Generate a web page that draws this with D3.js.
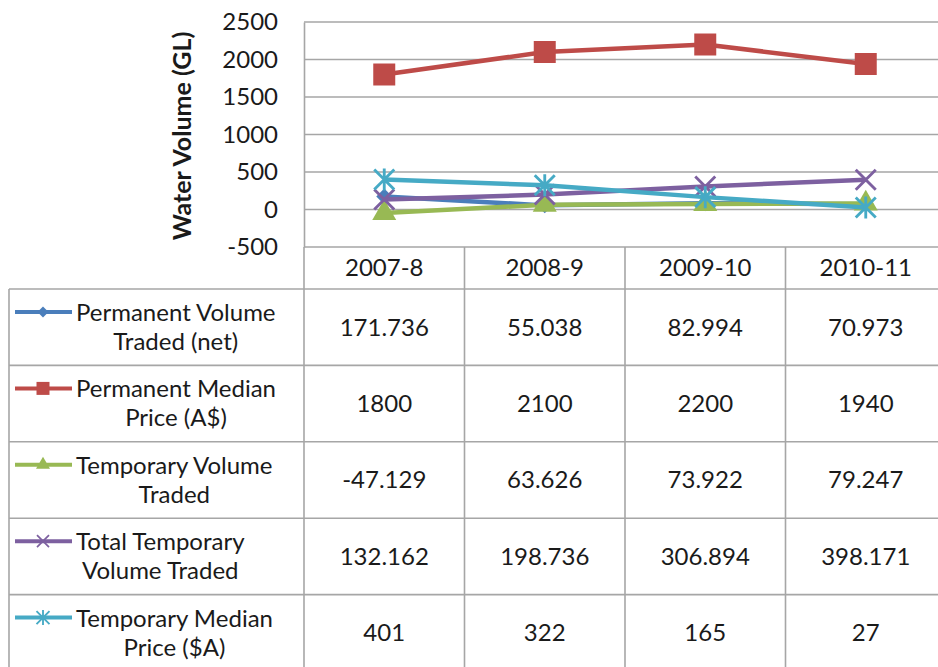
<!DOCTYPE html>
<html>
<head>
<meta charset="utf-8">
<script src="https://cdn.jsdelivr.net/npm/d3@7"></script>
<style>
  body { margin: 0; background: #fff; }
  text { font-family: Lato, "Open Sans", sans-serif; fill: #1a1a1a; }
</style>
</head>
<body>
<svg id="chart" width="938" height="667"></svg>
<script>
const years = ['2007-8', '2008-9', '2009-10', '2010-11'];
const seriesNames = ['permVolume', 'permPrice', 'tempVolume', 'totalTempVolume', 'tempPrice'];
const legendLines = [
    ['Permanent Volume', 'Traded (net)'],
    ['Permanent Median', 'Price (A$)'],
    ['Temporary Volume', 'Traded'],
    ['Total Temporary', 'Volume Traded'],
    ['Temporary Median', 'Price ($A)']
];
const permVolume = [171.736, 55.038, 82.994, 70.973];
const permPrice = [1800, 2100, 2200, 1940];
const tempVolume = [-47.129, 63.626, 73.922, 79.247];
const totalTempVolume = [132.162, 198.736, 306.894, 398.171];
const tempPrice = [401, 322, 165, 27];
const yTicks = [-500, 0, 500, 1000, 1500, 2000, 2500];
const colors = ['#4a7ebb', '#be4b48', '#98b954', '#7d60a0', '#46aac5'];
const markers = ['diamond', 'square', 'triangle', 'x', 'star'];

const values = [permVolume, permPrice, tempVolume, totalTempVolume, tempPrice];

const gridColor = '#a6a6a6';
const fontSize = 24;
const svg = d3.select('#chart');

// plot area
const plot = { left: 304, right: 946, top: 22, bottom: 247 };
const tableTop = 289, tableBottom = 671, tableLeft = 9;

const x = d3.scaleBand().domain(years).range([plot.left, plot.right]);
const y = d3.scaleLinear().domain([-500, 2500]).range([plot.bottom, plot.top]);
const rows = d3.scaleBand().domain(seriesNames).range([tableTop, tableBottom]);

// gridlines
svg.append('g')
    .selectAll('line')
    .data(yTicks)
    .join('line')
    .attr('x1', plot.left).attr('x2', plot.right)
    .attr('y1', d => y(d)).attr('y2', d => y(d))
    .attr('stroke', gridColor).attr('stroke-width', 1.6);

// y axis
const yAxis = svg.append('g')
    .attr('transform', `translate(${plot.left},0)`)
    .call(d3.axisLeft(y).tickValues(yTicks).tickSize(0).tickPadding(26).tickFormat(d => String(d)));
yAxis.select('.domain').attr('stroke', gridColor).attr('stroke-width', 1.6);
yAxis.selectAll('text')
    .attr('font-size', fontSize)
    .attr('font-family', 'Lato, "Open Sans", sans-serif')
    .attr('fill', '#1a1a1a');

svg.append('text')
    .attr('transform', 'translate(191,136) rotate(-90)')
    .attr('text-anchor', 'middle')
    .attr('font-size', 25)
    .attr('font-weight', 'bold')
    .text('Water Volume (GL)');

// table grid
const grid = svg.append('g').attr('stroke', gridColor).attr('stroke-width', 1.6);
grid.selectAll('.vcol')
    .data(years)
    .join('line')
    .attr('x1', d => x(d)).attr('x2', d => x(d))
    .attr('y1', plot.bottom).attr('y2', tableBottom);
grid.append('line')
    .attr('x1', tableLeft).attr('x2', tableLeft)
    .attr('y1', tableTop).attr('y2', tableBottom);
grid.selectAll('.hrow')
    .data(seriesNames)
    .join('line')
    .attr('x1', tableLeft).attr('x2', plot.right)
    .attr('y1', d => rows(d)).attr('y2', d => rows(d));

// header labels
svg.append('g')
    .selectAll('text')
    .data(years)
    .join('text')
    .attr('x', d => x(d) + x.bandwidth() / 2)
    .attr('y', (plot.bottom + tableTop) / 2)
    .attr('dy', '0.35em')
    .attr('text-anchor', 'middle')
    .attr('font-size', fontSize)
    .text(d => d);

// value cells
seriesNames.forEach((name, i) => {
    svg.append('g')
        .selectAll('text')
        .data(values[i])
        .join('text')
        .attr('x', (d, j) => x(years[j]) + x.bandwidth() / 2)
        .attr('y', rows(name) + rows.bandwidth() / 2)
        .attr('dy', '0.35em')
        .attr('text-anchor', 'middle')
        .attr('font-size', fontSize)
        .text(d => String(d));
});

// marker drawing
function marker(g, type, color, s) {
    if (type === 'diamond') {
        g.append('path').attr('d', d3.symbol(d3.symbolSquare, s * s / 2)())
            .attr('transform', 'rotate(45)').attr('fill', color);
    } else if (type === 'square') {
        g.append('path').attr('d', d3.symbol(d3.symbolSquare, s * s)()).attr('fill', color);
    } else if (type === 'triangle') {
        g.append('path').attr('d', d3.symbol(d3.symbolTriangle, s * s * Math.sqrt(3) / 4)()).attr('fill', color);
    } else {
        const h = s / 2;
        let d = `M${-h},${-h}L${h},${h}M${-h},${h}L${h},${-h}`;
        if (type === 'star') d += `M0,${-h - 1}L0,${h + 1}`;
        g.append('path').attr('d', d).attr('stroke', color).attr('stroke-width', s / 7).attr('fill', 'none');
    }
}

const markerSize = { diamond: 16, square: 22, triangle: 24, x: 20, star: 20 };
const legendSize = { diamond: 11, square: 13, triangle: 14, x: 12, star: 13 };

// series lines
const line = d3.line().x((d, j) => x(years[j]) + x.bandwidth() / 2).y(d => y(d));
seriesNames.forEach((name, i) => {
    const g = svg.append('g');
    g.append('path')
        .attr('d', line(values[i]))
        .attr('fill', 'none')
        .attr('stroke', colors[i])
        .attr('stroke-width', 4.5)
        .attr('stroke-linejoin', 'round');
    values[i].forEach((v, j) => {
        const m = g.append('g').attr('transform', `translate(${x(years[j]) + x.bandwidth() / 2},${y(v)})`);
        marker(m, markers[i], colors[i], markerSize[markers[i]]);
    });
});

// legend keys in table
seriesNames.forEach((name, i) => {
    const top = rows(name);
    const ly = top + 23;
    const g = svg.append('g');
    g.append('line')
        .attr('x1', 15).attr('x2', 72).attr('y1', ly).attr('y2', ly)
        .attr('stroke', colors[i]).attr('stroke-width', 4);
    const m = g.append('g').attr('transform', `translate(43,${ly})`);
    marker(m, markers[i], colors[i], legendSize[markers[i]]);

    const texts = g.selectAll('text.lg')
        .data(legendLines[i])
        .join('text')
        .attr('class', 'lg')
        .attr('y', (d, k) => top + 32 + k * 29)
        .attr('text-anchor', 'middle')
        .attr('font-size', fontSize)
        .text(d => d);
    const widths = texts.nodes().map(n => n.getComputedTextLength());
    const blockW = d3.max(widths);
    texts.attr('x', 76 + blockW / 2);
});
</script>
</body>
</html>
